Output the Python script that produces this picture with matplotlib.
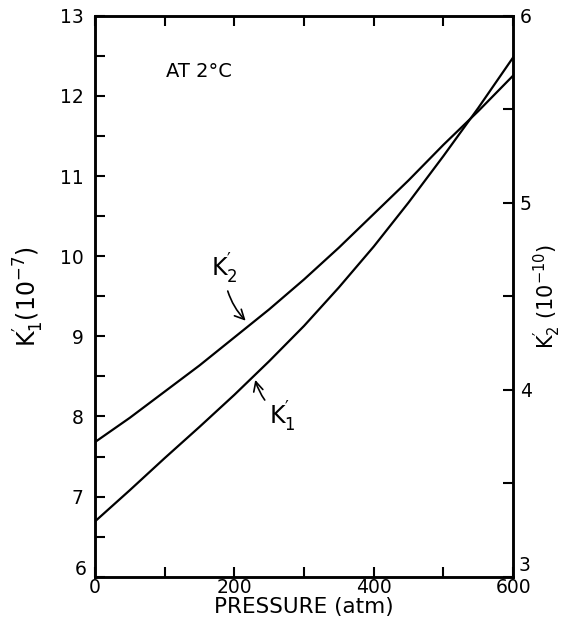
import matplotlib
matplotlib.use("Agg")
import matplotlib.pyplot as plt
import matplotlib.transforms as mtransforms
from matplotlib.ticker import MultipleLocator

# pressure (atm)
pressure = [0, 50, 100, 150, 200, 250, 300, 350, 400, 450, 500, 550, 600]
# K1' in units of 1e-7 (left axis)
k1 = [6.69, 7.08, 7.48, 7.87, 8.27, 8.69, 9.13, 9.61, 10.12, 10.67, 11.25, 11.85, 12.48]
# K2' in units of 1e-10 (right axis)
k2 = [3.72, 3.85, 3.99, 4.13, 4.28, 4.43, 4.59, 4.76, 4.94, 5.12, 5.31, 5.49, 5.68]

x_ticks = [0, 200, 400, 600]
left_ticks = [6, 7, 8, 9, 10, 11, 12, 13]
right_ticks = [3, 4, 5, 6]

plt.rcParams['font.family'] = ['DejaVu Sans']
plt.rcParams['mathtext.default'] = 'regular'

fig = plt.figure(figsize=(5.62, 6.31), dpi=100)
ax = fig.add_axes([0.169, 0.086, 0.744, 0.889])
ax2 = ax.twinx()

ax.plot(pressure, k1, color='black', lw=1.6)
ax2.plot(pressure, k2, color='black', lw=1.6)

ax.set_xlim(0, 600)
ax.set_ylim(6, 13)
ax2.set_ylim(3, 6)

ax.set_xticks(x_ticks)
ax.xaxis.set_minor_locator(MultipleLocator(100))
# bottom labels (6 and 3) are drawn separately, raised above the x labels
ax.set_yticks(left_ticks, [''] + [str(v) for v in left_ticks[1:]])
ax2.set_yticks(right_ticks, [''] + [str(v) for v in right_ticks[1:]])
ax.yaxis.set_minor_locator(MultipleLocator(0.5))
ax2.yaxis.set_minor_locator(MultipleLocator(0.5))

for a in (ax, ax2):
    for s in a.spines.values():
        s.set_linewidth(1.8)
ax.tick_params(axis='x', which='both', direction='in', top=True, length=7, width=1.5,
               labelsize=13.5, pad=1)
ax.tick_params(axis='y', which='both', direction='in', length=7, width=1.5,
               labelsize=13.5, pad=8)
ax2.tick_params(axis='y', which='both', direction='in', length=7, width=1.5,
                labelsize=13.5, pad=5)

tl = mtransforms.blended_transform_factory(ax.transAxes, ax.transData)
ax.text(-0.02, left_ticks[0] - 0.03, str(left_ticks[0]), transform=tl, ha='right',
        va='bottom', fontsize=13.5)
tr = mtransforms.blended_transform_factory(ax2.transAxes, ax2.transData)
ax2.text(1.012, right_ticks[0] + 0.01, str(right_ticks[0]), transform=tr, ha='left',
         va='bottom', fontsize=13.5)

ax.set_xlabel('PRESSURE (atm)', fontsize=15.5, labelpad=0)
ax.set_ylabel(r"K$_1^{\prime}$(10$^{-7}$)", fontsize=17, labelpad=10)
ax2.set_ylabel(r"K$_2^{\prime}$ (10$^{-10}$)", fontsize=15, labelpad=0)

ax.text(0.17, 0.9, 'AT 2°C', transform=ax.transAxes, fontsize=14, va='center')

ax.annotate(r"K$_2^{\prime}$", xy=(219, 9.17), xytext=(166, 9.75), fontsize=17,
            arrowprops=dict(arrowstyle='->', color='black', lw=1.2,
                            connectionstyle='arc3,rad=0.2'))
ax.annotate(r"K$_1^{\prime}$", xy=(229, 8.49), xytext=(250, 7.9), fontsize=17,
            arrowprops=dict(arrowstyle='->', color='black', lw=1.2,
                            connectionstyle='arc3,rad=-0.2'))

plt.savefig('out.png', dpi=100)
plt.close()
